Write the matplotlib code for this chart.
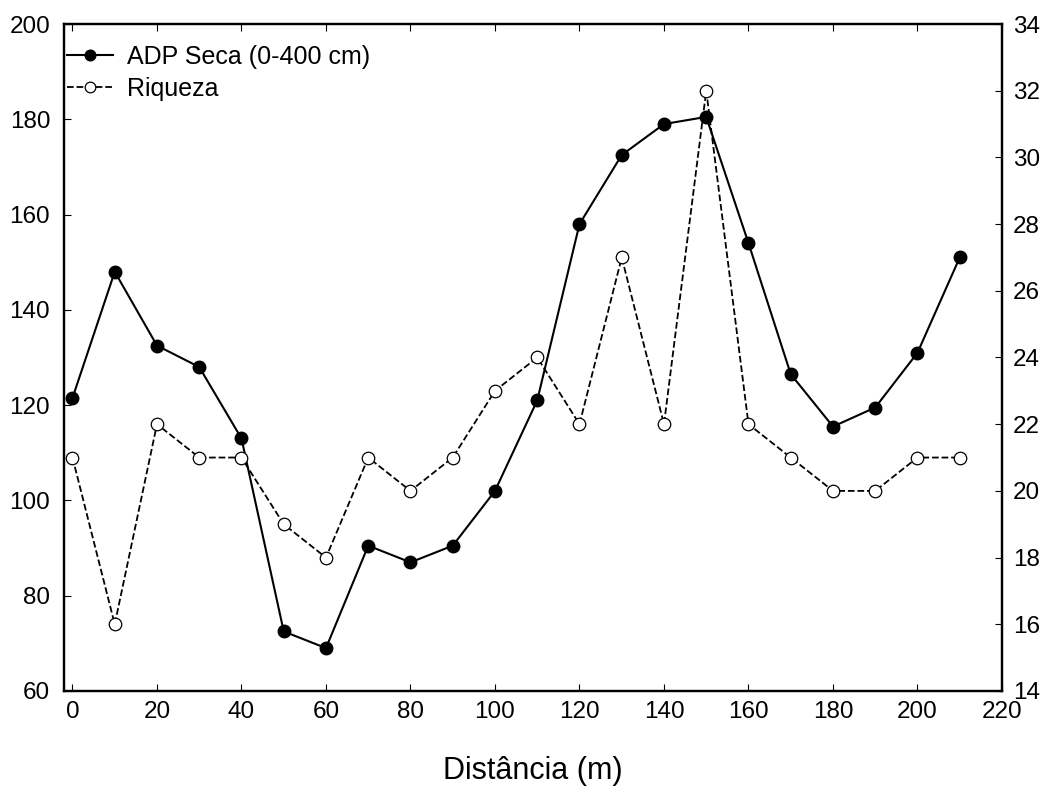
import matplotlib
matplotlib.use("Agg")
import matplotlib.pyplot as plt

plt.rcParams['font.family'] = ['Liberation Sans', 'DejaVu Sans']

distancia = [0, 10, 20, 30, 40, 50, 60, 70, 80, 90, 100, 110, 120, 130, 140, 150, 160, 170, 180, 190, 200, 210]
adp_seca = [121.5, 148, 132.5, 128, 113, 72.5, 69, 90.5, 87, 90.5, 102, 121, 158, 172.5, 179, 180.5, 154, 126.5, 115.5, 119.5, 131, 151]
riqueza = [21, 16, 22, 21, 21, 19, 18, 21, 20, 21, 23, 24, 22, 27, 22, 32, 22, 21, 20, 20, 21, 21]

fig = plt.figure(figsize=(10.48, 7.87), dpi=100)
ax = fig.add_axes([0.0611, 0.122, 0.8950, 0.8475])
ax2 = ax.twinx()

l1, = ax.plot(distancia, adp_seca, '-o', color='black', markerfacecolor='black',
              markersize=9, linewidth=1.5, label='ADP Seca (0-400 cm)')
l2, = ax2.plot(distancia, riqueza, '--o', color='black', markerfacecolor='white',
               markersize=9, markeredgewidth=0.9, linewidth=1.3, label='Riqueza')

ax.set_xlim(-2, 220)
ax.set_ylim(60, 200)
ax2.set_ylim(14, 34)
ax.set_xticks(range(0, 221, 20))
ax.set_yticks(range(60, 201, 20))
ax2.set_yticks(range(14, 35, 2))

ax.tick_params(axis='x', direction='in', top=True, labelsize=17.5, length=5, pad=7)
ax.tick_params(axis='y', direction='in', labelsize=17.5, length=5, pad=10)
ax2.tick_params(axis='y', direction='in', labelsize=17.5, length=5, pad=8)
for a in (ax, ax2):
    for s in a.spines.values():
        s.set_linewidth(1.6)

ax.set_xlabel('Distância (m)', fontsize=22, labelpad=24)

ax.legend(handles=[l1, l2], loc='upper left', bbox_to_anchor=(0.003, 0.969),
          frameon=False, fontsize=18, borderpad=0, borderaxespad=0,
          handlelength=1.85, handletextpad=0.55, labelspacing=0.32, markerscale=0.85)

fig.savefig('out.png', dpi=100)
